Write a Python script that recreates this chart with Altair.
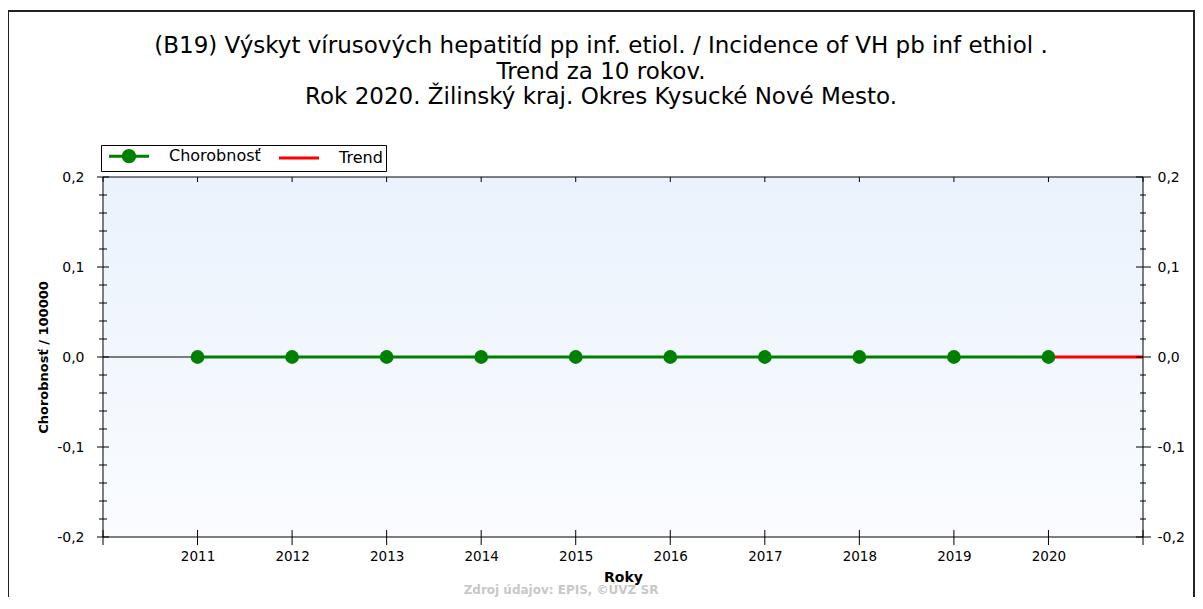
import altair as alt
import pandas as pd

# ---------------- data ----------------
years = [2011, 2012, 2013, 2014, 2015, 2016, 2017, 2018, 2019, 2020]
incidence = [0.0, 0.0, 0.0, 0.0, 0.0, 0.0, 0.0, 0.0, 0.0, 0.0]
trend_years = [2020, 2021]
trend_values = [0.0, 0.0]
series_names = ["Chorobnosť", "Trend"]
series_colors = ["#008000", "#ff0000"]
x_domain = [2010, 2021]
y_domain = [-0.2, 0.2]
y_major = [-0.2, -0.1, 0.0, 0.1, 0.2]
y_minor = [-0.18, -0.16, -0.14, -0.12, -0.08, -0.06, -0.04, -0.02,
           0.02, 0.04, 0.06, 0.08, 0.12, 0.14, 0.16, 0.18]
x_ticks = [2010, 2011, 2012, 2013, 2014, 2015, 2016, 2017, 2018, 2019, 2020, 2021]
title_lines = [
    "(B19) Výskyt vírusových hepatitíd pp inf. etiol. / Incidence of VH pb inf ethiol .",
    "Trend za 10 rokov.",
    "Rok 2020. Žilinský kraj. Okres Kysucké Nové Mesto.",
]
y_title = "Chorobnosť / 100000"
x_title = "Roky"
source_note = "Zdroj údajov: EPIS, ©ÚVZ SR"

# ---------------- layout ----------------
W, H = 1040, 360
FONT = "DejaVu Sans"

main_df = pd.DataFrame({"year": years, "value": incidence, "series": series_names[0]})
trend_df = pd.DataFrame({"year": trend_years, "value": trend_values, "series": series_names[1]})
zero_df = pd.DataFrame({"year": [x_domain[0]], "year2": [x_domain[1]], "value": [0.0]})
ymaj_df = pd.DataFrame({"value": y_major})
ymin_df = pd.DataFrame({"value": y_minor})
xt_df = pd.DataFrame({"year": x_ticks})
one = pd.DataFrame({"k": [0]})

xscale = alt.Scale(domain=x_domain, nice=False, zero=False)
yscale = alt.Scale(domain=y_domain, nice=False, zero=False)

lbl_expr = "replace(replace(format(datum.value, '.1f'), '.', ','), '\u2212', '-')"

x_axis = alt.Axis(values=years, format="d", ticks=False, domain=False, grid=False,
                  labelPadding=12, labelFont=FONT, labelFontSize=13.5, labelColor="black",
                  title=x_title, titleFont=FONT, titleFontSize=14, titleFontWeight="bold",
                  titleColor="black", titlePadding=8)
left_axis = alt.Axis(orient="left", values=y_major, labelExpr=lbl_expr, ticks=False,
                     domain=False, grid=False, labelPadding=19, labelFont=FONT,
                     labelFontSize=14, labelColor="black", title=y_title, titleFont=FONT,
                     titleFontSize=13, titleFontWeight="bold", titleColor="black",
                     titlePadding=6)
right_axis = alt.Axis(orient="right", values=y_major, labelExpr=lbl_expr, ticks=False,
                      domain=False, grid=False, labelPadding=14, labelFont=FONT,
                      labelFontSize=14, labelColor="black", title=None)


def X(field="year"):
    return alt.X(f"{field}:Q", scale=xscale, axis=x_axis)


def Y(axis=left_axis):
    return alt.Y("value:Q", scale=yscale, axis=axis)


legend = alt.Legend(
    title=None, orient="none", legendX=-2, legendY=-32, direction="horizontal",
    columns=2, fillColor="white", strokeColor="black", padding=3,
    columnPadding=12, symbolSize=144, symbolStrokeWidth=3, labelOffset=49,
    labelFont=FONT, labelFontSize=16, labelColor="black",
    symbolType=alt.ExprRef(expr=(
        "datum.value == 'Trend' ? 'M-0.5,0L6.17,0' : "
        "'M-0.5,0L6.17,0M1.88,0A0.95,0.95,0,1,1,3.78,0A0.95,0.95,0,1,1,1.88,0Z'")),
    symbolFillColor=alt.ExprRef(expr="datum.value == 'Trend' ? 'transparent' : '#008000'"),
)
color = alt.Color("series:N", scale=alt.Scale(domain=series_names, range=series_colors),
                  legend=legend)

bg = alt.Chart(one).mark_rect(
    fill=alt.Gradient(gradient="linear", x1=0, y1=0, x2=0, y2=1,
                      stops=[alt.GradientStop(color="#EAF2FC", offset=0),
                             alt.GradientStop(color="#FAFCFF", offset=1)])
).encode(x=alt.value(0), x2=alt.value(W), y=alt.value(0), y2=alt.value(H))

frame = alt.Chart(one).mark_rect(fillOpacity=0, stroke="#222222", strokeWidth=2).encode(
    x=alt.value(-95), x2=alt.value(1091), y=alt.value(-166), y2=alt.value(460))

border = alt.Chart(one).mark_rect(fillOpacity=0, stroke="black", strokeWidth=1).encode(
    x=alt.value(0), x2=alt.value(W), y=alt.value(0), y2=alt.value(H))

zero = alt.Chart(zero_df).mark_rule(color="black", strokeWidth=1).encode(
    x=X(), x2="year2:Q", y=Y())

trend = alt.Chart(trend_df).mark_line(strokeWidth=3).encode(x=X(), y=Y(), color=color)
line = alt.Chart(main_df).mark_line(strokeWidth=3).encode(x=X(), y=Y(), color=color)
pts = alt.Chart(main_df).mark_circle(size=190, color="#008000", opacity=1).encode(x=X(), y=Y())

lmaj = alt.Chart(ymaj_df).mark_rule(color="black").encode(
    y=Y(), x=alt.value(-6), x2=alt.value(6))
lmin = alt.Chart(ymin_df).mark_rule(color="black").encode(
    y=Y(), x=alt.value(-4), x2=alt.value(4))
xb = alt.Chart(xt_df).mark_rule(color="black").encode(
    x=X(), y=alt.value(H - 7), y2=alt.value(H + 8))
xtop = alt.Chart(xt_df).mark_rule(color="black").encode(
    x=X(), y=alt.value(0), y2=alt.value(5))

note = alt.Chart(one).mark_text(font=FONT, fontSize=12, fontWeight="bold", color="#C8C8C8",
                                align="center", baseline="middle").encode(
    x=alt.value(458), y=alt.value(413), text=alt.value(source_note))

left_part = alt.layer(bg, frame, zero, trend, line, pts, border, lmaj, lmin, xb, xtop, note)

rmaj = alt.Chart(ymaj_df).mark_rule(color="black").encode(
    y=Y(right_axis), x=alt.value(W - 7), x2=alt.value(W + 8))
rmin = alt.Chart(ymin_df).mark_rule(color="black").encode(
    y=Y(right_axis), x=alt.value(W - 3), x2=alt.value(W + 3))
right_part = alt.layer(rmaj, rmin)

chart = alt.layer(left_part, right_part).resolve_scale(y="independent").properties(
    width=W, height=H,
    title=alt.TitleParams(text=title_lines, font=FONT, fontSize=23, fontWeight="normal",
                          color="black", lineHeight=25.5, anchor="middle", dx=-22, offset=-99),
    autosize=alt.AutoSizeParams(type="none"),
    padding={"left": 95, "top": 169, "right": 52, "bottom": 60},
    background="white",
).configure_view(stroke=None)

chart.save("out.html", embed_options={"renderer": "svg", "actions": False})
